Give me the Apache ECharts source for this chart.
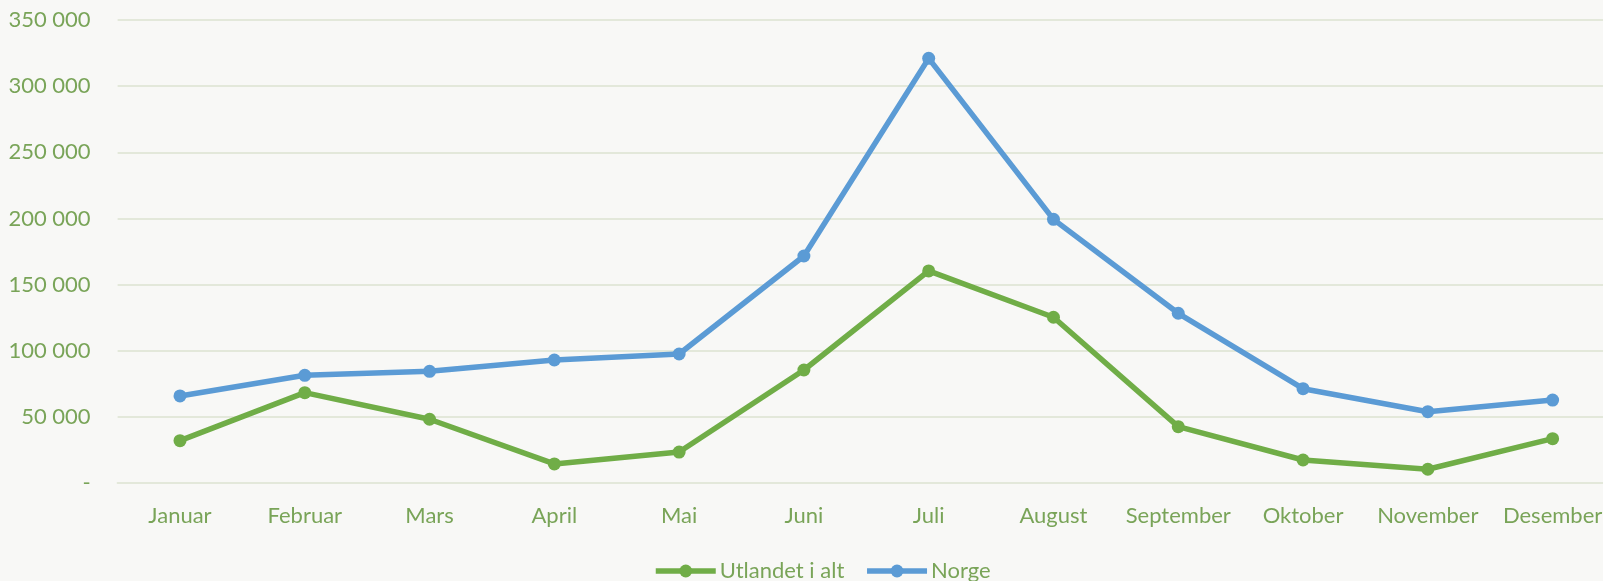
<!DOCTYPE html>
<html>
<head>
<meta charset="utf-8">
<script src="https://cdn.jsdelivr.net/npm/echarts@6/dist/echarts.min.js"></script>
<style>
html,body{margin:0;padding:0;background:#F8F8F6;}
#chart{width:1603px;height:581px;}
</style>
</head>
<body>
<div id="chart"></div>
<script>
var months = ["Januar","Februar","Mars","April","Mai","Juni","Juli","August","September","Oktober","November","Desember"];
var utlandet = [32000, 68300, 48200, 14400, 23400, 85400, 160300, 125300, 42600, 17400, 10400, 33500];
var norge = [65800, 81400, 84400, 93000, 97500, 171600, 321000, 199300, 128300, 71300, 53900, 62700];
var seriesNames = ["Utlandet i alt", "Norge"];
var yTicks = {min: 0, max: 350000, interval: 50000};

var textColor = "#79A458";
var fontFam = "Lato, 'Noto Sans', sans-serif";
var chart = echarts.init(document.getElementById("chart"));
chart.setOption({
  backgroundColor: "#F8F8F6",
  animation: false,
  grid: {left: 117.6, right: -12, top: 20, bottom: 98, outerBoundsMode: "none", containLabel: false},
  legend: {
    left: 653, top: 560, padding: 0,
    itemWidth: 60, itemHeight: 16, itemGap: 20,
    lineStyle: {width: 5.5},
    textStyle: {color: textColor, fontSize: 22, fontFamily: fontFam, padding: [0,0,0,-1]},
    data: seriesNames
  },
  xAxis: {
    type: "category",
    data: months,
    boundaryGap: true,
    axisLine: {show: true, lineStyle: {color: "#E3E8DA", width: 2}},
    axisTick: {show: false},
    axisLabel: {color: textColor, fontSize: 22, fontFamily: fontFam, margin: 22, interval: 0}
  },
  yAxis: {
    type: "value",
    min: yTicks.min, max: yTicks.max, interval: yTicks.interval,
    axisLine: {show: false},
    axisTick: {show: false},
    splitLine: {lineStyle: {color: "#E3E8DA", width: 2}},
    axisLabel: {
      color: textColor, fontSize: 22, fontFamily: fontFam, margin: 27,
      formatter: function (v) {
        if (v === 0) return "-";
        return String(v).replace(/\B(?=(\d{3})+(?!\d))/g, " ");
      }
    }
  },
  series: [
    {
      name: seriesNames[0], type: "line", data: utlandet,
      symbol: "circle", symbolSize: 13,
      lineStyle: {color: "#70AD47", width: 5.5},
      itemStyle: {color: "#70AD47"}
    },
    {
      name: seriesNames[1], type: "line", data: norge,
      symbol: "circle", symbolSize: 13,
      lineStyle: {color: "#5B9BD5", width: 5.5},
      itemStyle: {color: "#5B9BD5"}
    }
  ]
});
</script>
</body>
</html>
